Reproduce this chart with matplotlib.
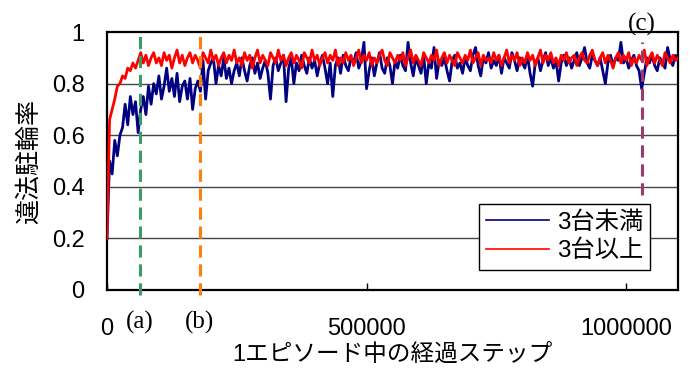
import numpy as np
import matplotlib
matplotlib.use("Agg")
import matplotlib.pyplot as plt

plt.rcParams['font.family'] = ['Liberation Sans', 'Noto Sans CJK JP', 'DejaVu Sans']

steps = np.arange(0, 1100001, 5000)

under3 = [
    0.20, 0.50, 0.45, 0.58, 0.52, 0.60, 0.63, 0.72, 0.64, 0.75,
    0.68, 0.73, 0.61, 0.70, 0.75, 0.68, 0.79, 0.72, 0.80, 0.76,
    0.83, 0.74, 0.79, 0.86, 0.77, 0.82, 0.75, 0.84, 0.73, 0.79,
    0.81, 0.74, 0.82, 0.70, 0.78, 0.81, 0.77, 0.89, 0.74, 0.85,
    0.88, 0.90, 0.80, 0.87, 0.83, 0.90, 0.82, 0.86, 0.80, 0.85,
    0.88, 0.83, 0.90, 0.85, 0.81, 0.87, 0.90, 0.84, 0.88, 0.82,
    0.86, 0.89, 0.84, 0.74, 0.87, 0.90, 0.85, 0.88, 0.91, 0.73,
    0.86, 0.90, 0.80, 0.88, 0.85, 0.91, 0.87, 0.84, 0.90, 0.86,
    0.89, 0.83, 0.88, 0.91, 0.86, 0.80, 0.88, 0.75, 0.87, 0.90,
    0.84, 0.91, 0.87, 0.85, 0.90, 0.88, 0.92, 0.86, 0.89, 0.96,
    0.78, 0.85, 0.90, 0.83, 0.88, 0.92, 0.86, 0.84, 0.90, 0.87,
    0.80, 0.89, 0.86, 0.91, 0.87, 0.85, 0.96, 0.88, 0.83, 0.90,
    0.87, 0.84, 0.91, 0.80, 0.88, 0.86, 0.94, 0.82, 0.89, 0.87,
    0.90, 0.85, 0.81, 0.89, 0.91, 0.86, 0.88, 0.84, 0.90, 0.87,
    0.85, 0.91, 0.94, 0.87, 0.83, 0.90, 0.88, 0.92, 0.86, 0.89,
    0.87, 0.91, 0.84, 0.90, 0.88, 0.86, 0.92, 0.89, 0.85, 0.90,
    0.88, 0.86, 0.91, 0.84, 0.79, 0.88, 0.90, 0.85, 0.89, 0.92,
    0.87, 0.90, 0.86, 0.89, 0.81, 0.88, 0.91, 0.87, 0.90, 0.86,
    0.89, 0.92, 0.87, 0.90, 0.94, 0.88, 0.86, 0.91, 0.89, 0.87,
    0.90, 0.85, 0.80, 0.88, 0.91, 0.87, 0.90, 0.89, 0.96, 0.88,
    0.90, 0.86, 0.89, 0.91, 0.87, 0.85, 0.78, 0.84, 0.90, 0.88,
    0.91, 0.87, 0.85, 0.90, 0.88, 0.86, 0.94, 0.89, 0.87, 0.91, 0.89,
]

over3 = [
    0.20, 0.66, 0.70, 0.74, 0.79, 0.80, 0.83, 0.82, 0.86, 0.85,
    0.88, 0.86, 0.89, 0.92, 0.88, 0.91, 0.87, 0.90, 0.92, 0.88,
    0.90, 0.87, 0.92, 0.89, 0.91, 0.86, 0.90, 0.93, 0.88, 0.91,
    0.87, 0.90, 0.92, 0.88, 0.91, 0.89, 0.86, 0.92, 0.90, 0.88,
    0.93, 0.89, 0.91, 0.87, 0.90, 0.92, 0.88, 0.91, 0.89, 0.93,
    0.88, 0.90, 0.87, 0.92, 0.89, 0.91, 0.86, 0.90, 0.93, 0.88,
    0.91, 0.89, 0.87, 0.92, 0.90, 0.88, 0.93, 0.89, 0.91, 0.87,
    0.90, 0.92, 0.88, 0.91, 0.89, 0.86, 0.92, 0.90, 0.88, 0.93,
    0.89, 0.91, 0.87, 0.90, 0.92, 0.88, 0.91, 0.89, 0.93, 0.87,
    0.90, 0.88, 0.92, 0.89, 0.91, 0.87, 0.90, 0.93, 0.88, 0.91,
    0.89, 0.92, 0.87, 0.90, 0.88, 0.91, 0.93, 0.89, 0.87, 0.92,
    0.90, 0.88, 0.91, 0.89, 0.92, 0.87, 0.90, 0.93, 0.88, 0.91,
    0.89, 0.87, 0.92, 0.90, 0.88, 0.91, 0.89, 0.93, 0.87, 0.90,
    0.92, 0.88, 0.91, 0.89, 0.87, 0.92, 0.90, 0.88, 0.91, 0.89,
    0.93, 0.88, 0.90, 0.92, 0.87, 0.91, 0.89, 0.90, 0.88, 0.92,
    0.89, 0.91, 0.87, 0.90, 0.93, 0.88, 0.91, 0.89, 0.92, 0.87,
    0.90, 0.88, 0.92, 0.89, 0.91, 0.87, 0.90, 0.93, 0.88, 0.91,
    0.89, 0.92, 0.88, 0.90, 0.87, 0.91, 0.89, 0.92, 0.88, 0.90,
    0.91, 0.87, 0.90, 0.92, 0.89, 0.88, 0.91, 0.93, 0.89, 0.87,
    0.90, 0.92, 0.88, 0.91, 0.89, 0.86, 0.90, 0.92, 0.88, 0.91,
    0.89, 0.92, 0.87, 0.90, 0.88, 0.91, 0.89, 0.93, 0.87, 0.90,
    0.92, 0.88, 0.91, 0.89, 0.87, 0.92, 0.90, 0.88, 0.91, 0.89, 0.90,
]

series_labels = ["3台未満", "3台以上"]
markers_x = [63000, 179000, 1031000]
marker_labels = ["(a)", "(b)", "(c)"]
y_ticks = [0, 0.2, 0.4, 0.6, 0.8, 1.0]
y_ticklabels = ["0", "0.2", "0.4", "0.6", "0.8", "1"]
x_ticks = [0, 500000, 1000000]
x_ticklabels = ["0", "500000", "1000000"]

fig = plt.figure(figsize=(6.91, 3.74), dpi=100)
ax = fig.add_axes([0.1548, 0.2246, 0.8264, 0.6898])

for yv in y_ticks[1:-1]:
    ax.axhline(yv, color='#444444', lw=1.0, zorder=1)

ax.plot(steps, under3, color='#000080', lw=2.0, label=series_labels[0], zorder=3)
ax.plot(steps, over3, color='#ff0000', lw=2.0, label=series_labels[1], zorder=4)

ax.set_xlim(0, 1100000)
ax.set_ylim(0, 1)

dash = (0, (4, 2.2))
ax.plot([markers_x[0]] * 2, [-0.02, 1.0], color='#3a9a6a', lw=2.2,
        ls=dash, clip_on=False, zorder=5)
ax.plot([markers_x[1]] * 2, [-0.02, 1.0], color='#ff7f0e', lw=2.2,
        ls=dash, clip_on=False, zorder=5)
ax.plot([markers_x[2]] * 2, [0.37, 0.96], color='#9b3a6e', lw=2.2,
        ls=dash, clip_on=False, zorder=5)

trans = ax.get_xaxis_transform()
ax.text(markers_x[0], -0.125, marker_labels[0], transform=trans, ha='center', va='center',
        fontsize=18, family='Liberation Serif')
ax.text(markers_x[1], -0.125, marker_labels[1], transform=trans, ha='center', va='center',
        fontsize=18, family='Liberation Serif')
ax.text(markers_x[2], 1.03, marker_labels[2], transform=trans, ha='center', va='center',
        fontsize=18, family='Liberation Serif')

ax.set_yticks(y_ticks)
ax.set_yticklabels(y_ticklabels, fontsize=17)
ax.set_xticks(x_ticks)
ax.set_xticklabels(x_ticklabels, fontsize=17)
ax.tick_params(axis='y', length=0, pad=16)
ax.tick_params(axis='x', direction='in', length=5, width=1, pad=20)

for s in ax.spines.values():
    s.set_linewidth(1.6)
    s.set_color('black')

ax.set_ylabel("違法駐輪率", fontsize=18, labelpad=8)
ax.set_xlabel("1エピソード中の経過ステップ", fontsize=17, labelpad=3)

leg = ax.legend(loc='lower right', bbox_to_anchor=(0.9725, 0.032), fontsize=17.5,
                frameon=True, fancybox=False, edgecolor='black', framealpha=1,
                handlelength=2.6, handletextpad=0.3, borderpad=0.3, labelspacing=0.25)
leg.get_frame().set_linewidth(1.0)
for line in leg.get_lines():
    line.set_linewidth(1.2)

fig.savefig("out.png", dpi=100)
